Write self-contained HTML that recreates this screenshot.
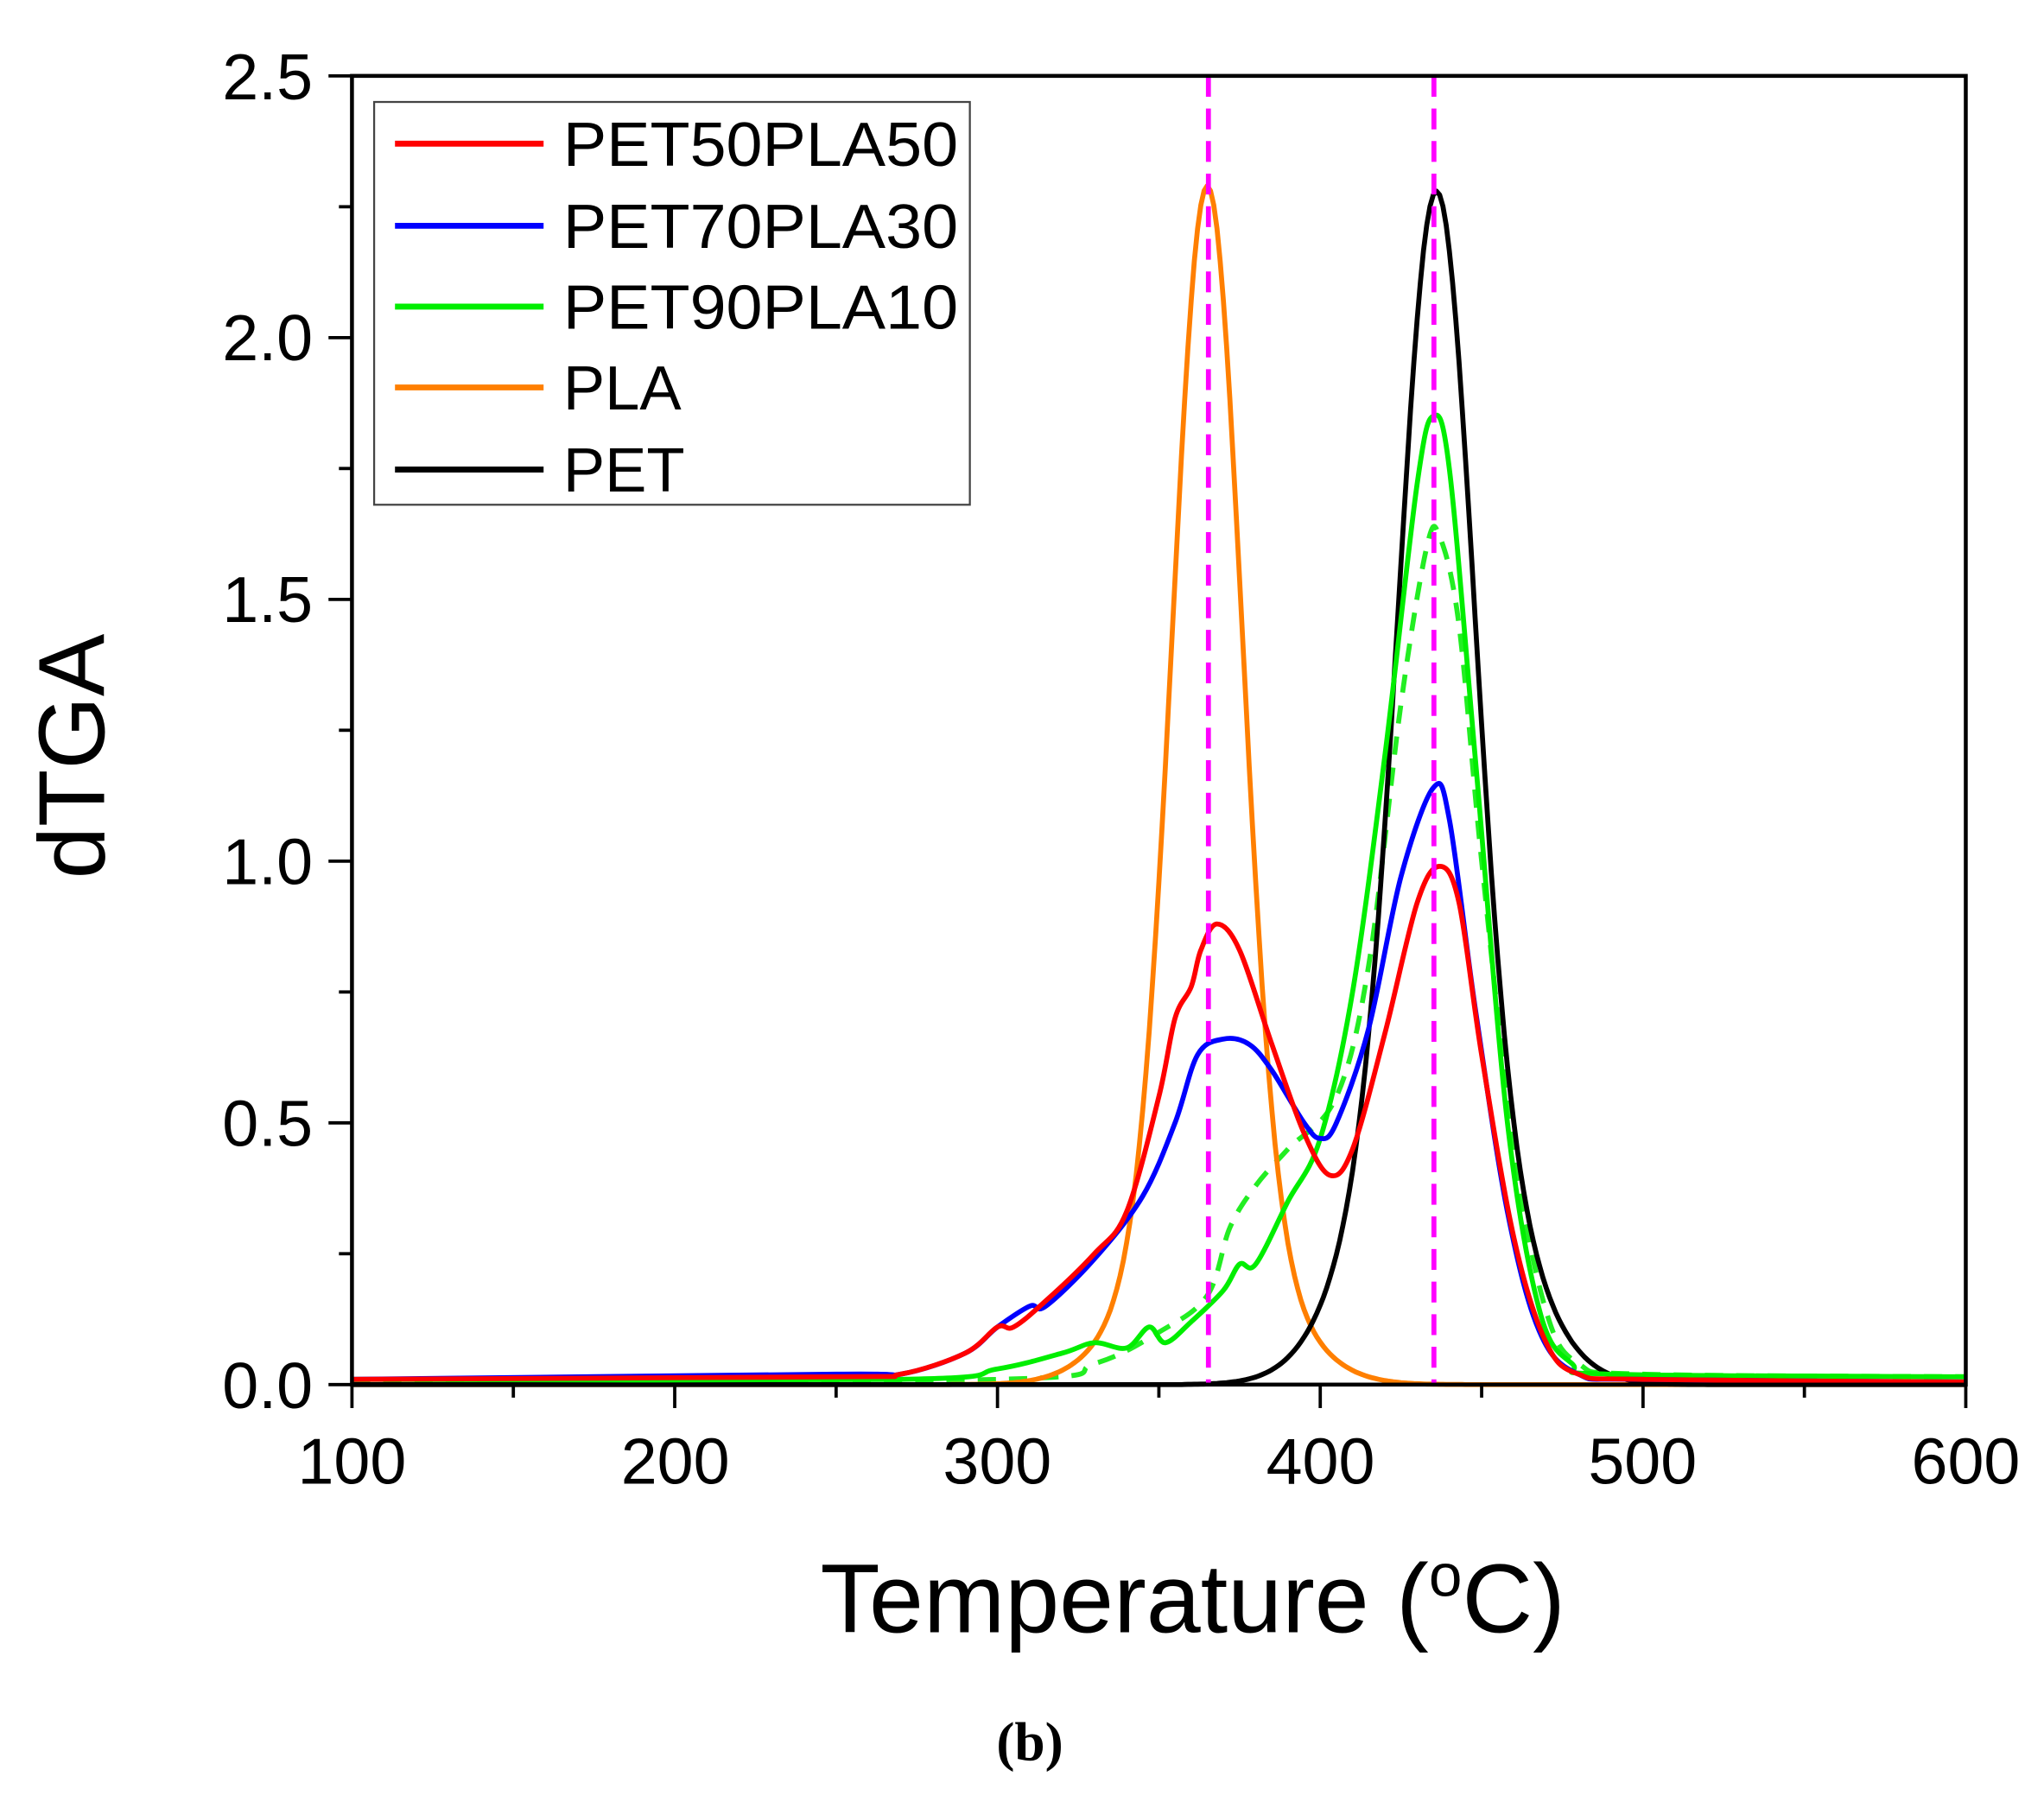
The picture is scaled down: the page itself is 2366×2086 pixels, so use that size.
<!DOCTYPE html>
<html><head><meta charset="utf-8"><style>
html,body{margin:0;padding:0;background:#fff;}
svg{display:block;}
text{font-family:"Liberation Sans",Arial,sans-serif;fill:#000;}
</style></head><body>
<svg id="s" width="2366" height="2086" viewBox="0 0 1568 1382" xmlns="http://www.w3.org/2000/svg">
<g id="curves" fill="none" stroke-width="3.8" stroke-linejoin="round"></g>
<g stroke="#f0f" stroke-width="3.8" stroke-dasharray="16,9">
<line x1="927" y1="58" x2="927" y2="1062"/>
<line x1="1100" y1="58" x2="1100" y2="1062"/>
</g>
<rect x="270" y="58" width="1238" height="1004" fill="none" stroke="#000" stroke-width="3"/>
<g id="ticks" stroke="#000" stroke-width="2.5"></g>
<g font-size="50" text-anchor="end">
<text x="240" y="1080">0.0</text><text x="240" y="879">0.5</text><text x="240" y="678">1.0</text>
<text x="240" y="477">1.5</text><text x="240" y="276">2.0</text><text x="240" y="76">2.5</text>
</g>
<g font-size="50" text-anchor="middle">
<text x="270" y="1138">100</text><text x="518" y="1138">200</text><text x="765" y="1138">300</text>
<text x="1013" y="1138">400</text><text x="1260" y="1138">500</text><text x="1508" y="1138">600</text>
</g>
<text x="915" y="1252" font-size="75" text-anchor="middle">Temperature (<tspan font-size="46" dy="-28">o</tspan><tspan dy="28">C)</tspan></text>
<text transform="translate(80,580) rotate(-90)" font-size="72" text-anchor="middle">dTGA</text>
<text x="790" y="1350" font-size="42" font-weight="bold" text-anchor="middle" style="font-family:'Liberation Serif',serif">(b)</text>
<rect x="287" y="78" width="457" height="309" fill="#fff" stroke="#444" stroke-width="1.5"/>
<g stroke-width="4.5">
<line x1="303" y1="110" x2="417" y2="110" stroke="#f00"/>
<line x1="303" y1="173" x2="417" y2="173" stroke="#00f"/>
<line x1="303" y1="235" x2="417" y2="235" stroke="#0e0"/>
<line x1="303" y1="297" x2="417" y2="297" stroke="#ff7f00"/>
<line x1="303" y1="360" x2="417" y2="360" stroke="#000"/>
</g>
<g font-size="48">
<text x="432" y="127" textLength="303" lengthAdjust="spacingAndGlyphs">PET50PLA50</text><text x="432" y="190" textLength="303" lengthAdjust="spacingAndGlyphs">PET70PLA30</text>
<text x="432" y="252" textLength="303" lengthAdjust="spacingAndGlyphs">PET90PLA10</text><text x="432" y="314">PLA</text><text x="432" y="377">PET</text>
</g>
</svg>
<script>
var NS="http://www.w3.org/2000/svg";
function X(T){return 270+(T-100)*2.476;}
function Y(v){return 1062-v*401.6;}
function cr(pts){var p=pts.map(function(a){return [X(a[0]),Y(a[1])];});
var d="M"+p[0][0].toFixed(1)+","+p[0][1].toFixed(1);
for(var i=0;i<p.length-1;i++){var p0=p[i-1]||p[i],p1=p[i],p2=p[i+1],p3=p[i+2]||p2;
d+=" C"+(p1[0]+(p2[0]-p0[0])/6).toFixed(1)+","+(p1[1]+(p2[1]-p0[1])/6).toFixed(1)+" "+(p2[0]-(p3[0]-p1[0])/6).toFixed(1)+","+(p2[1]-(p3[1]-p1[1])/6).toFixed(1)+" "+p2[0].toFixed(1)+","+p2[1].toFixed(1);}
return d;}
function fn(f){var d="";for(var T=100;T<=600;T+=1){d+=(T==100?"M":" L")+X(T).toFixed(1)+","+Y(f(T)).toFixed(1);}return d;}
function g(T,m,s){return Math.exp(-(T-m)*(T-m)/(2*s*s));}
var G=document.getElementById("curves");
function add(d,c,dash){var e=document.createElementNS(NS,"path");e.setAttribute("d",d);e.setAttribute("stroke",c);if(dash)e.setAttribute("stroke-dasharray",dash);G.appendChild(e);}
add(cr([[100,0.005],[300,0.01],[330,0.04],[350,0.1],[365,0.17],[372,0.3],[380,0.38],[390,0.45],[405,0.55],[415,0.8],[425,1.3],[433,1.6],[437,1.62],[443,1.45],[450,1.0],[460,0.45],[470,0.14],[480,0.04],[500,0.02],[600,0.015]]),"#2e2","14,10");
add(fn(function(T){return 1.95*g(T,365,10.5)+0.34*g(T,365,20);}),"#ff7f00");
add(fn(function(T){return T<358?0:1.55*g(T,436,11)+0.73*g(T,436,20);}),"#000");
add(cr([[100,0.01],[270,0.01],[300,0.03],[320,0.06],[330,0.08],[340,0.07],[347,0.11],[352,0.08],[360,0.12],[370,0.18],[375,0.23],[380,0.23],[390,0.35],[400,0.47],[410,0.75],[420,1.2],[430,1.72],[435,1.85],[440,1.75],[448,1.2],[458,0.5],[468,0.14],[478,0.04],[490,0.02],[600,0.015]]),"#0e0");
add(cr([[100,0.01],[250,0.02],[270,0.02],[290,0.06],[300,0.11],[310,0.15],[315,0.15],[330,0.24],[345,0.36],[355,0.5],[362,0.63],[370,0.66],[378,0.65],[385,0.6],[395,0.5],[400,0.47],[405,0.5],[415,0.68],[425,0.97],[435,1.14],[440,1.08],[448,0.72],[458,0.33],[468,0.1],[480,0.02],[500,0.01],[600,0.005]]),"#00f");
add(cr([[100,0.01],[250,0.015],[270,0.02],[290,0.06],[300,0.11],[305,0.11],[315,0.16],[330,0.25],[340,0.33],[350,0.55],[355,0.7],[360,0.76],[363,0.83],[368,0.88],[375,0.83],[385,0.65],[395,0.48],[403,0.4],[410,0.45],[420,0.67],[430,0.92],[437,0.99],[443,0.92],[450,0.63],[460,0.28],[470,0.08],[480,0.02],[500,0.01],[600,0.005]]),"#f00");
var K=document.getElementById("ticks");
function ln(a,b,c,d){var e=document.createElementNS(NS,"line");e.setAttribute("x1",a);e.setAttribute("y1",b);e.setAttribute("x2",c);e.setAttribute("y2",d);K.appendChild(e);}
for(var T=100;T<=600;T+=50){var L=(T%100==0)?18:10;ln(X(T),1062,X(T),1062+L);}
for(var v=0;v<=2.5001;v+=0.25){var L=(Math.round(v*100)%50==0)?18:10;ln(270,Y(v),270-L,Y(v));}
</script>
</body></html>
